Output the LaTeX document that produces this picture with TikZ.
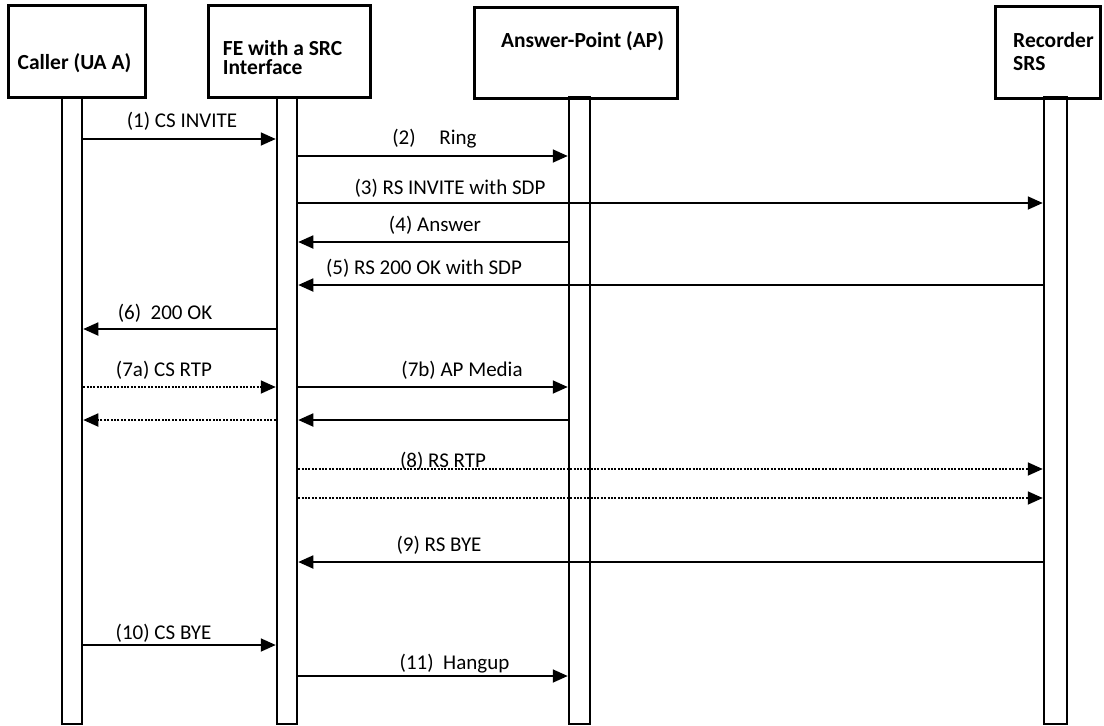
\documentclass[tikz,border=0pt]{standalone}
\usepackage{fontspec}
\setmainfont{Carlito}
\usetikzlibrary{arrows.meta}
\begin{document}
\begin{tikzpicture}[x=1pt,y=-1pt,
  hdrbox/.style={draw, line width=3pt, inner sep=0pt},
  life/.style={draw, line width=2.5pt, inner sep=0pt, minimum height=627pt},
  msg/.style={line width=1.8pt, -{Triangle[length=15pt,width=13pt]}},
  media/.style={msg, dash pattern=on 2pt off 1.4pt},
  lbl/.style={font=\fontsize{21}{25}\selectfont, inner sep=0pt, anchor=base},
  hdr/.style={font=\bfseries\fontsize{21.5}{25}\selectfont, inner sep=0pt, align=left}]

\useasboundingbox (0,0) rectangle (1104,726);

% participant boxes
\node[hdrbox, minimum width=137pt, minimum height=92pt] (callerbox) at (76.5,51) {};
\node[hdrbox, minimum width=162pt, minimum height=92pt] (febox) at (289,51) {};
\node[hdrbox, minimum width=203pt, minimum height=91pt] (apbox) at (575.5,52.5) {};
\node[hdrbox, minimum width=105pt, minimum height=92pt] (srsbox) at (1047.5,52) {};

\node[hdr, anchor=base] (callertxt) at (74.5,69) {Caller (UA A)};
\node[hdr, font=\bfseries\fontsize{21.5}{19}\selectfont, anchor=north west] (fetxt) at (222.7,40) {FE with a SRC\\Interface};
\node[hdr, anchor=base] (aptxt) at (582.5,47) {Answer-Point (AP)};
\node[hdr, anchor=base west] (srstxt1) at (1013,47) {Recorder};
\node[hdr, anchor=base west] (srstxt2) at (1013,70) {SRS};

% lifelines
\node[life, minimum width=20pt] (cl) at (72,410.5) {};
\node[life, minimum width=20pt] (fl) at (287,410.5) {};
\node[life, minimum width=21pt] (al) at (579.5,410.5) {};
\node[life, minimum width=23pt] (sl) at (1055.5,410.5) {};

% message rows
\coordinate (m1) at (0,139);
\coordinate (m2) at (0,156);
\coordinate (m3) at (0,203);
\coordinate (m4) at (0,242);
\coordinate (m5) at (0,285);
\coordinate (m6) at (0,329);
\coordinate (m7) at (0,387);
\coordinate (m7r) at (0,420);
\coordinate (m8) at (0,469);
\coordinate (m8b) at (0,498);
\coordinate (m9) at (0,562);
\coordinate (m10) at (0,645);
\coordinate (m11) at (0,676);

% signalling
\draw[msg] (cl.east |- m1) -- (fl.west |- m1);
\draw[msg] (fl.east |- m2) -- (al.west |- m2);
\draw[msg] (fl.east |- m3) -- (sl.west |- m3);
\draw[msg] (al.west |- m4) -- (fl.east |- m4);
\draw[msg] (sl.west |- m5) -- (fl.east |- m5);
\draw[msg] (fl.west |- m6) -- (cl.east |- m6);
% media
\draw[media] (cl.east |- m7) -- (fl.west |- m7);
\draw[msg] (fl.east |- m7) -- (al.west |- m7);
\draw[media] (fl.west |- m7r) -- (cl.east |- m7r);
\draw[msg] (al.west |- m7r) -- (fl.east |- m7r);
\draw[media] (fl.east |- m8) -- (sl.west |- m8);
\draw[media] (fl.east |- m8b) -- (sl.west |- m8b);
% teardown
\draw[msg] (sl.west |- m9) -- (fl.east |- m9);
\draw[msg] (cl.east |- m10) -- (fl.west |- m10);
\draw[msg] (fl.east |- m11) -- (al.west |- m11);

% labels
\node[lbl] (l1) at (182,127) {(1) CS INVITE};
\node[lbl] (l2) at (434.5,144) {(2)~~~~~Ring};
\node[lbl] (l3) at (450,194) {(3) RS INVITE with SDP};
\node[lbl] (l4) at (435,231) {(4) Answer};
\node[lbl] (l5) at (424,274) {(5) RS 200 OK with SDP};
\node[lbl] (l6) at (165,319) {(6)~~200 OK};
\node[lbl] (l7a) at (164,376) {(7a) CS RTP};
\node[lbl] (l7b) at (462,376) {(7b) AP Media};
\node[lbl] (l8) at (443,467) {(8) RS RTP};
\node[lbl] (l9) at (439,551) {(9) RS BYE};
\node[lbl] (l10) at (163.5,639) {(10) CS BYE};
\node[lbl] (l11) at (454.5,669) {(11)~~Hangup};
\end{tikzpicture}
\end{document}
